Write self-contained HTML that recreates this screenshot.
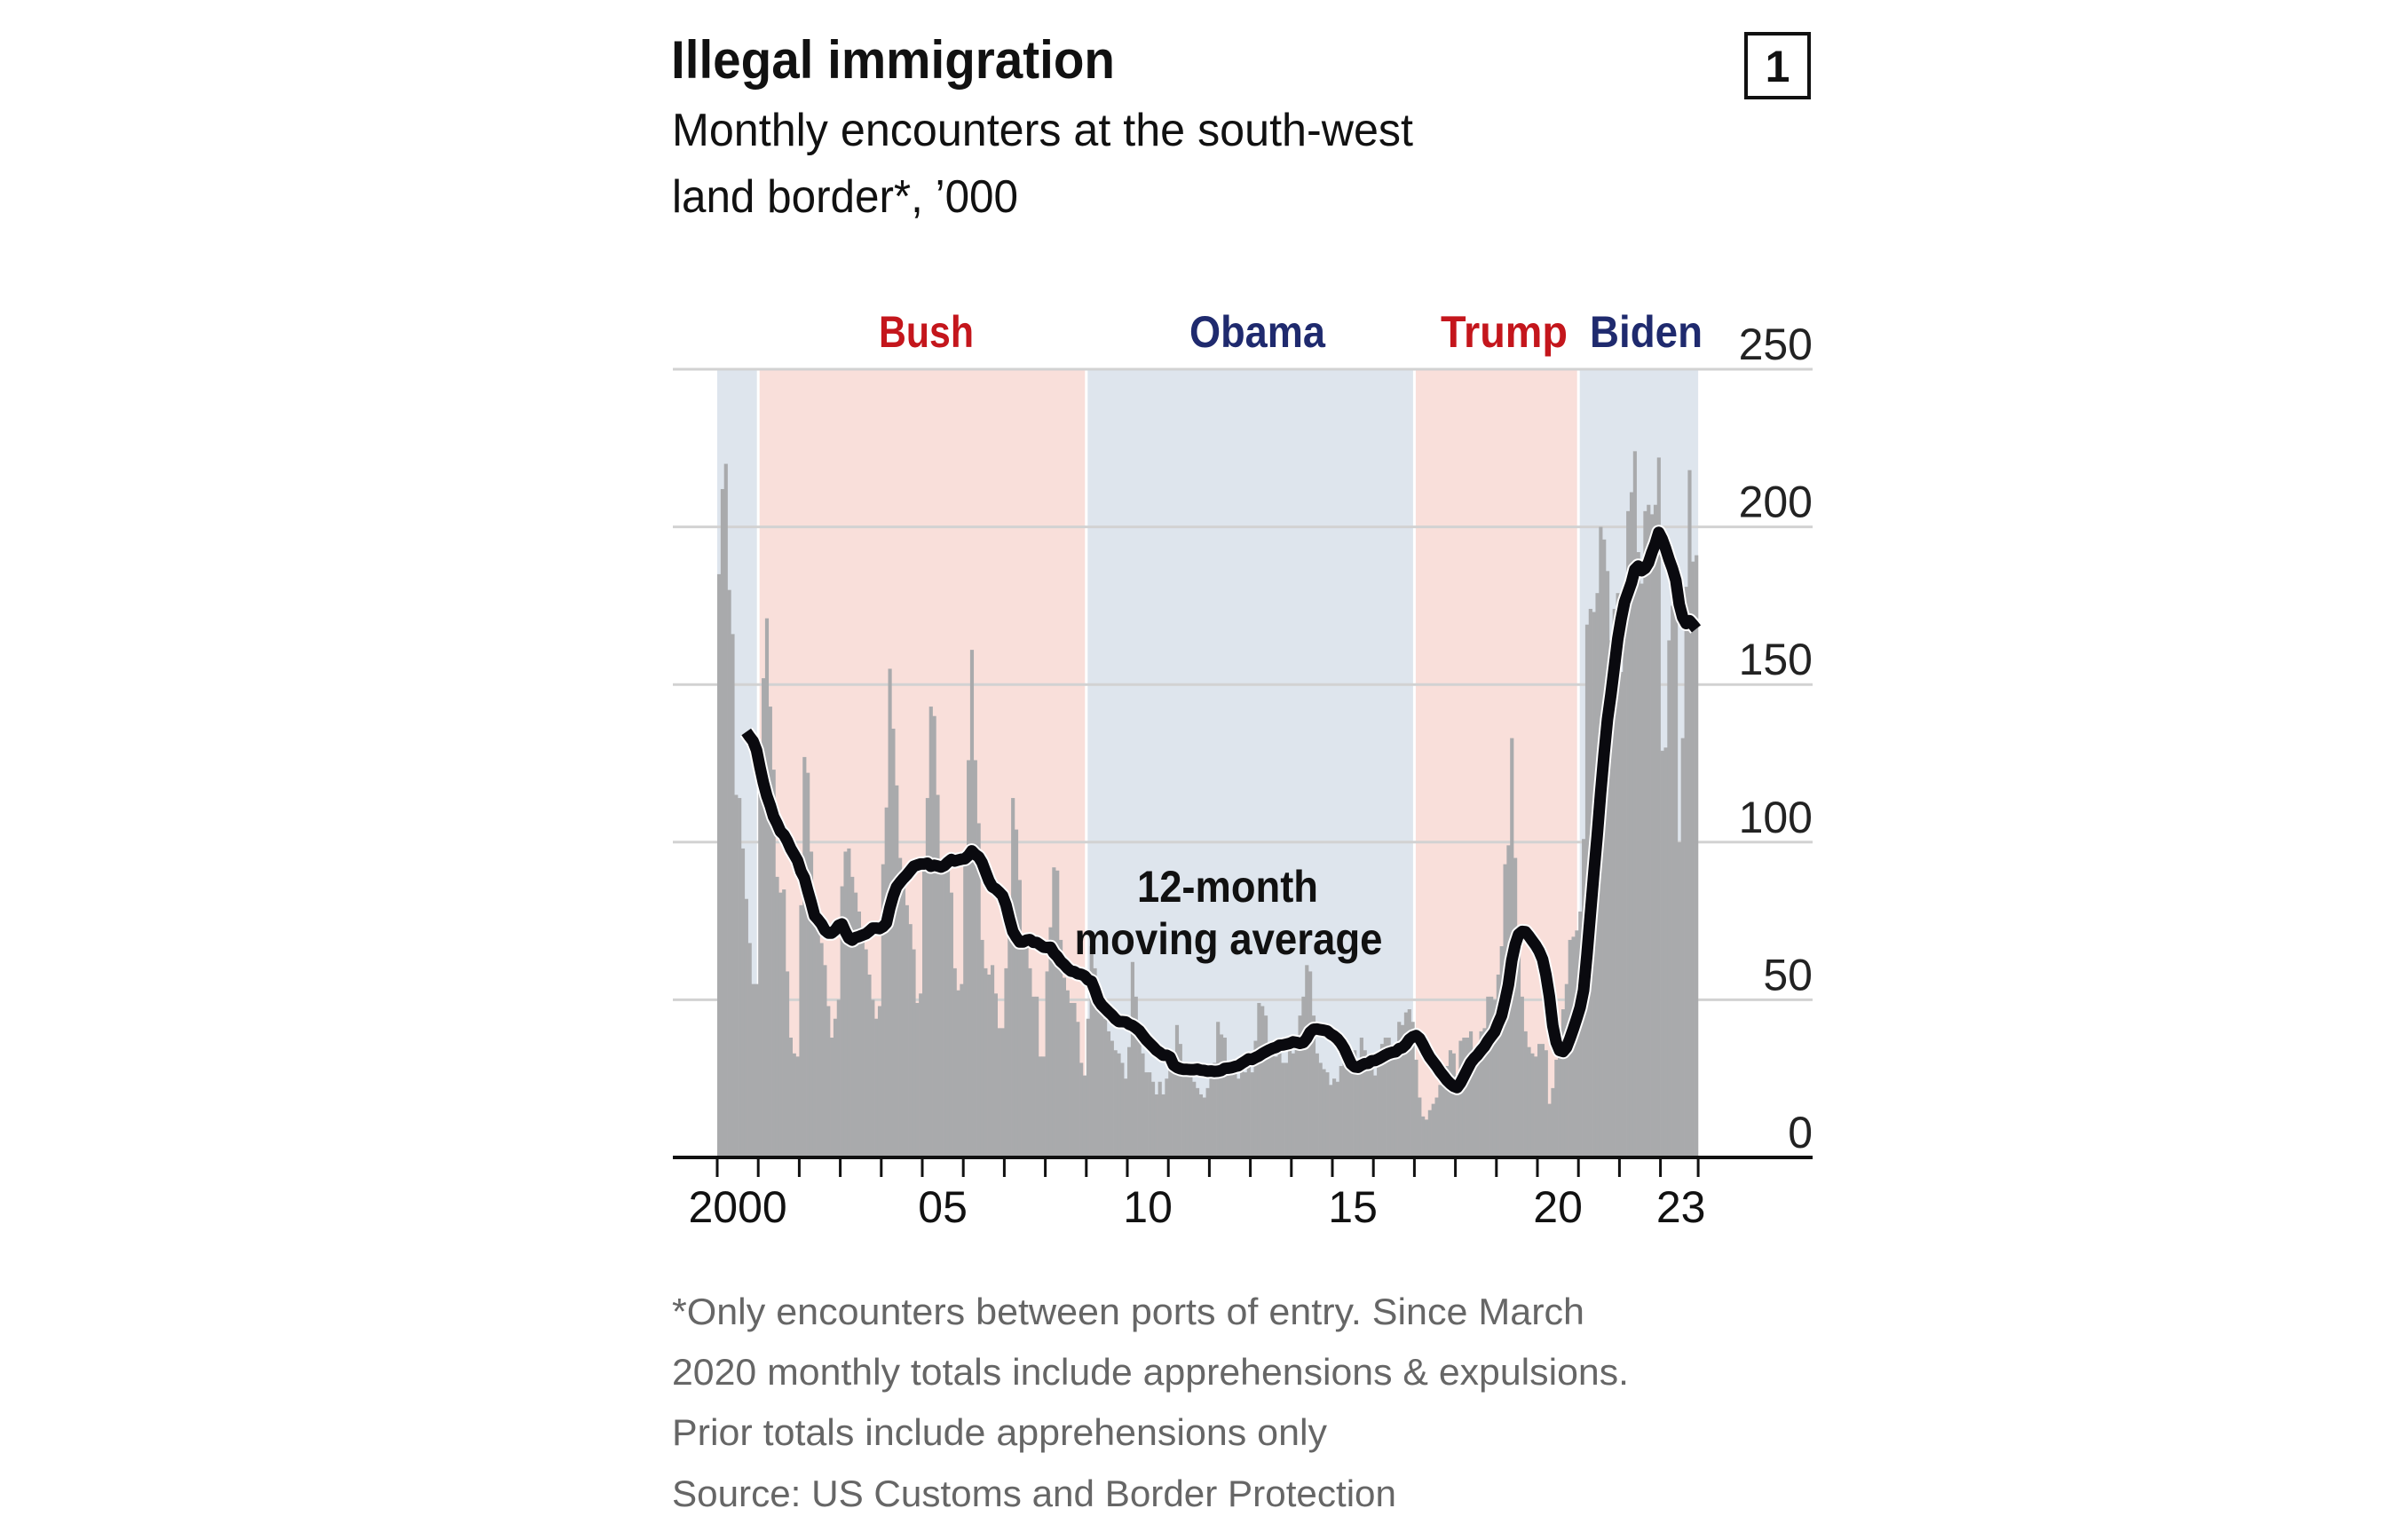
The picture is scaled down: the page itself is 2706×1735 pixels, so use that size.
<!DOCTYPE html>
<html><head><meta charset="utf-8"><style>
html,body{margin:0;padding:0;background:#fff;}
svg{display:block;}
text{font-family:"Liberation Sans",sans-serif;}
</style></head><body>
<svg id="chart" width="2706" height="1735" viewBox="0 0 2706 1735" xmlns="http://www.w3.org/2000/svg">
<rect x="0" y="0" width="2706" height="1735" fill="#fff"/>
<text x="756" y="88" font-size="60" font-weight="bold" fill="#111" textLength="500" lengthAdjust="spacingAndGlyphs">Illegal immigration</text>
<text x="757" y="164" font-size="52" fill="#111" textLength="835" lengthAdjust="spacingAndGlyphs">Monthly encounters at the south-west</text>
<text x="757" y="239" font-size="52" fill="#111" textLength="390" lengthAdjust="spacingAndGlyphs">land border*, ’000</text>
<g>
<rect x="1967" y="38" width="71" height="72" fill="none" stroke="#111" stroke-width="4"/>
<text x="2002.5" y="92" font-size="50" font-weight="bold" text-anchor="middle" fill="#111">1</text>
</g>
<g id="bg"></g>
<g id="grid"></g>
<g id="bars"></g>
<g id="line"></g>
<g id="axes"></g>
<text x="990" y="391" font-size="50" font-weight="bold" fill="#c4161c" textLength="107" lengthAdjust="spacingAndGlyphs">Bush</text>
<text x="1340" y="391" font-size="50" font-weight="bold" fill="#1f2a6e" textLength="153" lengthAdjust="spacingAndGlyphs">Obama</text>
<text x="1623" y="391" font-size="50" font-weight="bold" fill="#c4161c" textLength="143" lengthAdjust="spacingAndGlyphs">Trump</text>
<text x="1791" y="391" font-size="50" font-weight="bold" fill="#1f2a6e" textLength="127" lengthAdjust="spacingAndGlyphs">Biden</text>
<text x="1383" y="1016" font-size="50" font-weight="bold" fill="#111" text-anchor="middle" textLength="204" lengthAdjust="spacingAndGlyphs">12-month</text>
<text x="1384" y="1075" font-size="50" font-weight="bold" fill="#111" text-anchor="middle" textLength="347" lengthAdjust="spacingAndGlyphs">moving average</text>
<g fill="#666" font-size="42">
<text x="757" y="1492" textLength="1028" lengthAdjust="spacingAndGlyphs">*Only encounters between ports of entry. Since March</text>
<text x="757" y="1560" textLength="1078" lengthAdjust="spacingAndGlyphs">2020 monthly totals include apprehensions &amp; expulsions.</text>
<text x="757" y="1628" textLength="738" lengthAdjust="spacingAndGlyphs">Prior totals include apprehensions only</text>
<text x="757" y="1697" textLength="816" lengthAdjust="spacingAndGlyphs">Source: US Customs and Border Protection</text>
</g>
</svg>
<script>
// Monthly encounters ('000). Oct-Dec 1999 used only for the moving average
const y1999tail = [87,72,89];
const y2000 = [185,212,220,180,166,115,114,98,82,68,55,55];
const y2001 = [121,152,171,143,123,89,84,85,59,38,33,32];
const y2002 = [80,127,122,97,74,74,68,61,48,38,44,50];
const y2003 = [86,97,98,89,84,78,73,66,58,50,44,48];
const y2004 = [93,111,155,136,118,95,88,80,74,66,49,52];
const y2005 = [93,114,143,140,115,91,94,93,84,60,53,55];
const y2006 = [95,126,161,126,106,69,60,58,61,52,41,41];
const y2007 = [60,72,114,104,88,69,67,60,51,51,32,32];
const y2008 = [59,73,92,91,69,57,53,49,49,43,30,26];
const y2009 = [44,67,60,52,50,44,40,37,34,33,30,25];
const y2010 = [35,62,51,41,33,27,27,24,20,24,20,25];
const y2011 = [28,32,42,36,30,27,26,24,22,20,19,22];
const y2012 = [29,30,43,39,38,28,28,28,25,29,27,31];
const y2013 = [27,37,49,48,45,35,34,32,33,30,30,34];
const y2014 = [33,35,45,51,61,59,45,33,30,28,27,23];
const y2015 = [25,24,29,30,32,30,34,31,38,34,28,33];
const y2016 = [26,30,36,38,38,34,36,43,42,46,47,43];
const y2017 = [31,19,13,12,15,17,19,23,26,29,34,33];
const y2018 = [26,37,38,38,40,34,32,40,41,51,51,50];
const y2019 = [58,67,93,99,133,95,71,51,40,35,33,32];
const y2020 = [36,36,34,17,22,31,40,47,55,69,70,72];
const y2021 = [78,101,169,174,173,179,200,196,186,164,174,179];
const y2022 = [154,166,205,211,224,192,182,205,207,204,207,222];
const y2023 = [129,130,164,175,180,100,133,181,218,189,191];
const yTicks = [0,50,100,150,200,250];
const xTickYears = [2000,2001,2002,2003,2004,2005,2006,2007,2008,2009,2010,2011,2012,2013,2014,2015,2016,2017,2018,2019,2020,2021,2022,2023];
const xLabelYears = [2000,2005,2010,2015,2020,2023];
const xLabels = ["2000","05","10","15","20","23"];
const termStarts = [2000,2001,2009,2017,2021];
const termEnds = [2001,2009,2017,2021,2023.92];
const termParty = ["D","R","D","R","D"];

const values = [].concat(y2000,y2001,y2002,y2003,y2004,y2005,y2006,y2007,y2008,y2009,y2010,y2011,y2012,y2013,y2014,y2015,y2016,y2017,y2018,y2019,y2020,y2021,y2022,y2023);
const allVals = y1999tail.concat(values);
const NS = "http://www.w3.org/2000/svg";
const X0 = 808, YEARW = 46.2, Y0 = 1304, PERUNIT = (1304-416)/250;
const xScale = t => X0 + (t-2000)*YEARW;
const yScale = v => Y0 - v*PERUNIT;
function mk(tag, attrs, parent){const e=document.createElementNS(NS,tag);for(const k in attrs)e.setAttribute(k,attrs[k]);parent.appendChild(e);return e;}

const bg=document.getElementById('bg');
termStarts.forEach((s,i)=>{
  const r=mk('rect',{x:xScale(s),y:yScale(250),width:xScale(termEnds[i])-xScale(s),height:yScale(0)-yScale(250),fill:termParty[i]==="D"?"#dee5ed":"#f9dfda"},bg);
  
  
  if(i>0){const l=mk('line',{x1:xScale(s),x2:xScale(s),y1:yScale(250),y2:yScale(0),stroke:"#fff","stroke-width":3},bg);
  
  }
});

const grid=document.getElementById('grid');
yTicks.forEach(v=>{
  if(v>0){const l=mk('line',{x1:758,x2:2042,y1:yScale(v),y2:yScale(v),stroke:"#d2d2d2","stroke-width":3},grid);
  
  }
  const t=mk('text',{x:2042,y:yScale(v)-11,"font-size":50,fill:"#222","text-anchor":"end"},grid);
  t.textContent=String(v);
  
  
});

const bars=document.getElementById('bars');
const bw=YEARW/12;
values.forEach((v,i)=>{
  const x=xScale(2000+i/12);
  const r=mk('rect',{x:x,y:yScale(v),width:bw+0.3,height:yScale(0)-yScale(v),fill:"#a9aaac"},bars);
  
  
});

const off=y1999tail.length;
const pts=[];
for(let i=11;i<allVals.length;i++){
  let s=0;for(let j=i-11;j<=i;j++)s+=allVals[j];
  pts.push([xScale(2000+(i-off+0.5)/12),yScale(s/12)]);
}
const d=pts.map((p,i)=>(i?'L':'M')+p[0].toFixed(1)+' '+p[1].toFixed(1)).join(' ');
const lg=document.getElementById('line');
const halo=mk('path',{d:d,fill:"none",stroke:"#fff","stroke-width":17,"stroke-linejoin":"round"},lg);


const ma=mk('path',{d:d,fill:"none",stroke:"#0a0a0f","stroke-width":13,"stroke-linejoin":"round"},lg);



const ax=document.getElementById('axes');
const base=mk('line',{x1:758,x2:2042,y1:Y0,y2:Y0,stroke:"#111","stroke-width":4},ax);


xTickYears.concat([2023.92]).forEach(yr=>{
  const t=mk('line',{x1:xScale(yr),x2:xScale(yr),y1:Y0,y2:Y0+22,stroke:"#111","stroke-width":3},ax);
  
  
});
xLabelYears.forEach((yr,i)=>{
  const t=mk('text',{x:xScale(yr+0.5),y:1377,"font-size":50,fill:"#111","text-anchor":"middle"},ax);
  t.textContent=xLabels[i];
  
  
});
</script>
</body></html>
